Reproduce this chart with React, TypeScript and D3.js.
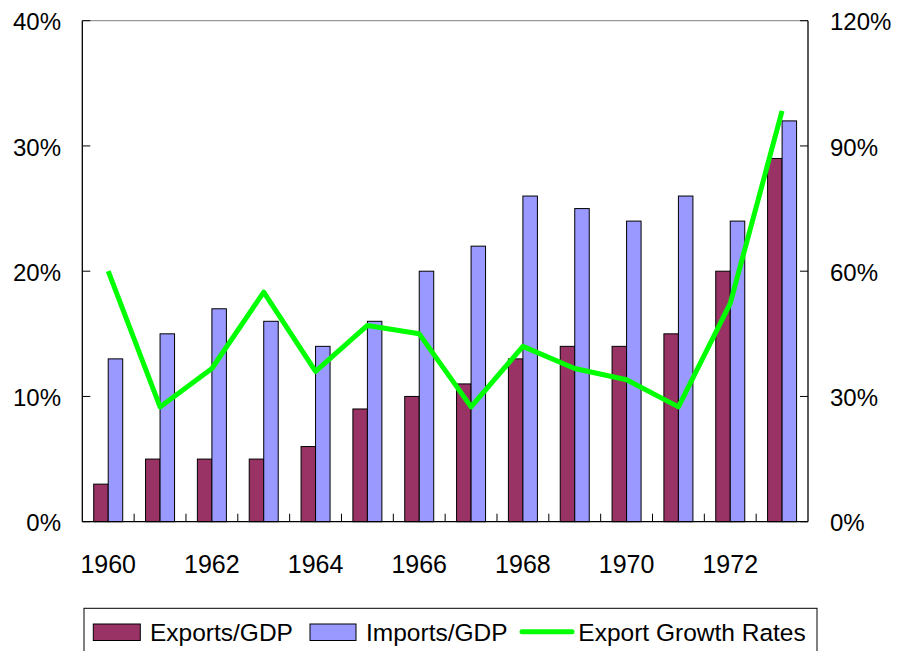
import { useEffect } from 'react'
import * as d3 from 'd3'

const years = [1960, 1961, 1962, 1963, 1964, 1965, 1966, 1967, 1968, 1969, 1970, 1971, 1972, 1973]
const exportsGdp = [3, 5, 5, 5, 6, 9, 10, 11, 13, 14, 14, 15, 20, 29]
const importsGdp = [13, 15, 17, 16, 14, 16, 20, 22, 26, 25, 24, 26, 24, 32]
const exportGrowth = [60, 27.5, 36.7, 55, 36, 47, 45, 27.5, 42, 36.7, 34, 27.5, 52.3, 98.4]
const leftTicks = [0, 10, 20, 30, 40]
const rightTicks = [0, 30, 60, 90, 120]
const yearLabels = [1960, 1962, 1964, 1966, 1968, 1970, 1972]

const W = 897
const H = 651
const plot = { left: 82.3, right: 808, top: 20.7, bottom: 521.7 }
const font = '"Liberation Sans", Arial, sans-serif'

const App = () => {
    useEffect(() => {
        document.body.style.margin = '0'
    }, [])

    const x = d3
        .scaleBand<number>()
        .domain(years)
        .range([plot.left, plot.right])
    const bw = 14.5
    const yL = d3.scaleLinear().domain([0, 40]).range([plot.bottom, plot.top])
    const yR = d3.scaleLinear().domain([0, 120]).range([plot.bottom, plot.top])
    const cx = (yr: number) => x(yr)! + x.bandwidth() / 2

    const line = d3
        .line<number>()
        .x((_, i) => cx(years[i]))
        .y(d => yR(d))

    return (
        <svg width={W} height={H} style={{ display: 'block' }} fontFamily={font}>
            <rect x={0} y={0} width={W} height={H} fill='#fff' />
            {/* bars */}
            {years.map((yr, i) => (
                <g key={yr}>
                    <rect
                        x={cx(yr) - bw}
                        y={yL(exportsGdp[i])}
                        width={bw}
                        height={plot.bottom - yL(exportsGdp[i])}
                        fill='#993366'
                        stroke='#000'
                        strokeWidth={1}
                    />
                    <rect
                        x={cx(yr)}
                        y={yL(importsGdp[i])}
                        width={bw}
                        height={plot.bottom - yL(importsGdp[i])}
                        fill='#9999ff'
                        stroke='#000'
                        strokeWidth={1}
                    />
                </g>
            ))}
            {/* frame */}
            <line x1={plot.left} x2={plot.right} y1={plot.top} y2={plot.top} stroke='#808080' strokeWidth={1} />
            <line x1={plot.left} x2={plot.left} y1={plot.top} y2={plot.bottom} stroke='#000' strokeWidth={1.3} />
            <line x1={plot.right} x2={plot.right} y1={plot.top} y2={plot.bottom} stroke='#000' strokeWidth={1.3} />
            <line x1={plot.left} x2={plot.right} y1={plot.bottom} y2={plot.bottom} stroke='#000' strokeWidth={1.3} />
            {/* category ticks */}
            {years.slice(1).map(yr => (
                <line
                    key={yr}
                    x1={x(yr)}
                    x2={x(yr)}
                    y1={plot.bottom}
                    y2={plot.bottom - 8}
                    stroke='#000'
                    strokeWidth={1}
                />
            ))}
            {/* left axis */}
            {leftTicks.map(t => (
                <g key={'l' + t}>
                    <line x1={plot.left} x2={plot.left + 8} y1={yL(t)} y2={yL(t)} stroke='#000' />
                    <text x={61} y={yL(t) + 9.6} fontSize={24} textAnchor='end' fill='#000'>
                        {t}%
                    </text>
                </g>
            ))}
            {/* right axis */}
            {rightTicks.map(t => (
                <g key={'r' + t}>
                    <line x1={plot.right - 8} x2={plot.right} y1={yR(t)} y2={yR(t)} stroke='#000' />
                    <text x={830} y={yR(t) + 9.6} fontSize={24} textAnchor='start' fill='#000'>
                        {t}%
                    </text>
                </g>
            ))}
            {/* year labels */}
            {yearLabels.map(yr => (
                <text key={yr} x={cx(yr)} y={572.7} fontSize={25} textAnchor='middle' fill='#000'>
                    {yr}
                </text>
            ))}
            {/* growth line */}
            <path
                d={line(exportGrowth) || ''}
                fill='none'
                stroke='#00ff00'
                strokeWidth={5}
                strokeLinejoin='round'
            />
            {/* legend */}
            <rect x={84} y={608.3} width={733} height={60} fill='#fff' stroke='#000' strokeWidth={1} />
            <rect x={93.3} y={624} width={47} height={16.5} fill='#993366' stroke='#000' strokeWidth={1} />
            <text x={150} y={640.5} fontSize={24.5} fill='#000'>
                Exports/GDP
            </text>
            <rect x={310} y={624} width={46} height={16.5} fill='#9999ff' stroke='#000' strokeWidth={1} />
            <text x={366} y={640.5} fontSize={24.5} fill='#000'>
                Imports/GDP
            </text>
            <line x1={522} x2={572} y1={631.7} y2={631.7} stroke='#00ff00' strokeWidth={5} strokeLinecap='round' />
            <text x={578.3} y={640.5} fontSize={24.5} fill='#000'>
                Export Growth Rates
            </text>
        </svg>
    )
}

export default App
